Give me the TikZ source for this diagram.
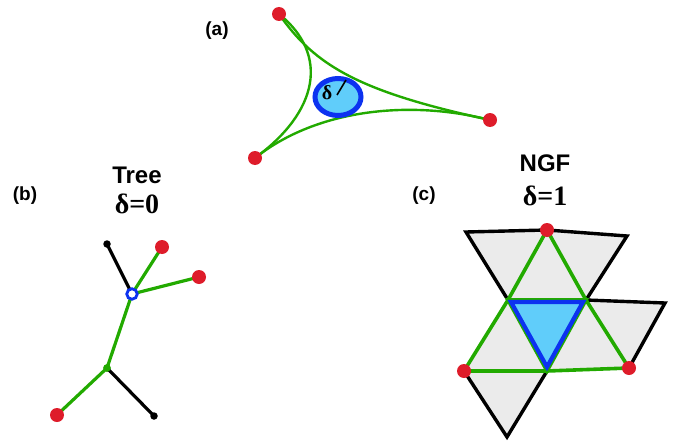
\documentclass[tikz,border=0pt]{standalone}
\usepackage{fontspec}
\setmainfont{Liberation Serif}
\setsansfont{Liberation Sans}
\usetikzlibrary{shapes.geometric}
\definecolor{gr}{RGB}{34,170,0}
\definecolor{rd}{RGB}{222,28,42}
\definecolor{bl}{RGB}{12,50,240}
\definecolor{lb}{RGB}{96,205,250}
\definecolor{gy}{RGB}{235,235,235}
\tikzset{
  reddot/.style={circle,fill=rd,inner sep=0pt,minimum size=14pt},
  blkdot/.style={circle,fill=black,inner sep=0pt,minimum size=7.5pt},
  grdot/.style={circle,fill=gr,inner sep=0pt,minimum size=7.5pt},
  hollow/.style={circle,draw=bl,fill=white,line width=2.8pt,inner sep=0pt,minimum size=10.5pt},
  gline/.style={draw=gr,line width=3.6pt},
  gcurve/.style={draw=gr,line width=2.4pt},
  kline/.style={draw=black,line width=3.4pt},
  tline/.style={draw=black,line width=3.2pt},
  tgline/.style={draw=gr,line width=3.2pt},
  blline/.style={draw=bl,line width=4.2pt,line join=miter},
  lab/.style={font=\sffamily\bfseries\fontsize{19}{20}\selectfont},
  ttl/.style={font=\sffamily\bfseries\fontsize{24}{28}\selectfont},
  dlt/.style={font=\bfseries\fontsize{28}{30}\selectfont},
}
\begin{document}
\begin{tikzpicture}[x=1pt,y=-1pt]
\useasboundingbox (0,0) rectangle (677,444);
% ---------- (a)
\node[lab] (la) at (217,31) {(a)};
\node (at) at (279,14) {};
\node (ar) at (490,120) {};
\node (ab) at (255,158) {};
\draw[gcurve] (at.center) .. controls (315,66) and (360,92) .. (ar.center);
\draw[gcurve] (at.center) .. controls (330,55) and (318,112) .. (ab.center);
\draw[gcurve] (ab.center) .. controls (318,108) and (412,100) .. (ar.center);
\node[ellipse,draw=bl,fill=lb,line width=5pt,minimum width=46pt,minimum height=37pt,inner sep=0pt] (ell) at (338,97) {};
\coordinate (r0) at (337,95);
\coordinate (r1) at (346,80);
\draw[line width=1.6pt] (r0) -- (r1);
\node[font=\bfseries\fontsize{20}{20}\selectfont] (dd) at (327,93) {δ};
\node[reddot] (dt) at (at) {};
\node[reddot] (dr) at (ar) {};
\node[reddot] (db) at (ab) {};
% ---------- (b)
\node[lab] (lb2) at (25,196) {(b)};
\node[ttl] (tree) at (137,175) {Tree};
\node[dlt] (d0) at (137,204) {δ=0};
\node[blkdot] (b1) at (107,244) {};
\node[blkdot] (b2) at (154,416) {};
\node[grdot] (g1) at (107,368) {};
\node (hc) at (132,294) {};
\node (r1n) at (162,247) {};
\node (r2n) at (199,277) {};
\node (r3n) at (57,415) {};
\draw[tline] (b1.center) -- (hc.center);
\draw[tline] (g1.center) -- (b2.center);
\draw[tgline] (hc.center) -- (r1n.center);
\draw[tgline] (hc.center) -- (r2n.center);
\draw[tgline] (hc.center) -- (g1.center);
\draw[tgline] (g1.center) -- (r3n.center);
\node[grdot] at (g1) {};
\node[hollow] (hol) at (hc) {};
\node[reddot] (tr1) at (r1n) {};
\node[reddot] (tr2) at (r2n) {};
\node[reddot] (tr3) at (r3n) {};
% ---------- (c)
\node[lab] (lc) at (424,196) {(c)};
\node[ttl] (ngf) at (545,163) {NGF};
\node[dlt] (d1) at (545,196) {δ=1};
\coordinate (A) at (547,230);
\coordinate (B) at (508,300);
\coordinate (C) at (586,300);
\coordinate (D) at (547,371);
\coordinate (E) at (464,371);
\coordinate (F) at (629,368);
\coordinate (P) at (466,232);
\coordinate (Q) at (627,236);
\coordinate (R) at (665,303);
\coordinate (S) at (507,437);
\coordinate (Bi) at (511,302);
\coordinate (Ci) at (583,302);
\coordinate (Di) at (547,367);
\fill[gy] (P) -- (A) -- (B) -- cycle;
\fill[gy] (A) -- (Q) -- (C) -- cycle;
\fill[gy] (A) -- (B) -- (C) -- cycle;
\fill[gy] (C) -- (R) -- (F) -- cycle;
\fill[gy] (C) -- (F) -- (D) -- cycle;
\fill[gy] (B) -- (D) -- (E) -- cycle;
\fill[gy] (E) -- (D) -- (S) -- cycle;
\draw[kline,line join=miter] (B) -- (P) -- (A) -- (Q) -- (C) -- (R) -- (F);
\draw[kline,line join=miter] (E) -- (S) -- (D);
\draw[gline] (A) -- (B) -- (E) -- (D) -- (F) -- (C) -- (A);
\draw[gline,line join=miter] (B) -- (C) -- (D) -- cycle;
\filldraw[blline,fill=lb] (Bi) -- (Ci) -- (Di) -- cycle;
\node[reddot] (cA) at (A) {};
\node[reddot] (cE) at (E) {};
\node[reddot] (cF) at (F) {};
\end{tikzpicture}
\end{document}
